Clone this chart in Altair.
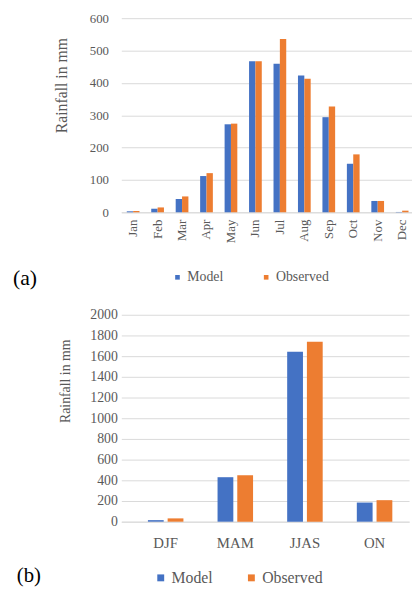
import altair as alt
import pandas as pd

months = ["Jan", "Feb", "Mar", "Apr", "May", "Jun", "Jul", "Aug", "Sep", "Oct", "Nov", "Dec"]
model_monthly = [3, 11, 41, 112, 272, 467, 459, 423, 294, 150, 35, 1]
obs_monthly = [4, 15, 49, 121, 274, 467, 536, 413, 327, 179, 35, 5]

seasons = ["DJF", "MAM", "JJAS", "ON"]
model_seasonal = [15, 430, 1643, 185]
obs_seasonal = [32, 450, 1740, 208]

series = ["Model", "Observed"]
colors = ["#4472C4", "#ED7D31"]

FONT = "Liberation Serif"
GRAY = "#595959"
GRID = "#d9d9d9"

df_m = pd.DataFrame(
    [{"cat": m, "series": "Model", "value": v} for m, v in zip(months, model_monthly)]
    + [{"cat": m, "series": "Observed", "value": v} for m, v in zip(months, obs_monthly)]
)
df_s = pd.DataFrame(
    [{"cat": s, "series": "Model", "value": v} for s, v in zip(seasons, model_seasonal)]
    + [{"cat": s, "series": "Observed", "value": v} for s, v in zip(seasons, obs_seasonal)]
)

# ---------- panel (a) ----------
bars_a = alt.Chart(df_m).mark_bar().encode(
    x=alt.X("cat:N", sort=months, title=None,
            scale=alt.Scale(paddingInner=0.48, paddingOuter=0.183, align=0.61),
            axis=alt.Axis(labelAngle=-90, labelFont=FONT, labelFontSize=13,
                          labelColor=GRAY, ticks=False, domainColor=GRID,
                          labelPadding=7, labelAlign="right", labelBaseline="middle")),
    xOffset=alt.XOffset("series:N", sort=series, scale=alt.Scale(paddingInner=0.0)),
    y=alt.Y("value:Q", scale=alt.Scale(domain=[0, 600], nice=False),
            axis=alt.Axis(values=[0, 100, 200, 300, 400, 500, 600], format="d",
                          title="Rainfall in mm",
                          titleFont=FONT, titleFontSize=16, titleFontWeight="normal",
                          titleColor=GRAY, titleX=-61, titleY=68, titleAngle=-90,
                          titleBaseline="middle", titleAlign="center",
                          labelFont=FONT, labelFontSize=13, labelColor=GRAY,
                          labelPadding=13, ticks=False, domain=False,
                          gridColor=GRID)),
    color=alt.Color("series:N", sort=series,
                    scale=alt.Scale(domain=series, range=colors),
                    legend=alt.Legend(title=None, orient="none", direction="horizontal",
                                      legendX=50, legendY=256, symbolType="square",
                                      symbolSize=22, symbolStrokeWidth=0,
                                      labelFont=FONT, labelFontSize=14,
                                      labelColor=GRAY, columnPadding=36,
                                      labelOffset=3)),
)

lab_a = alt.Chart(pd.DataFrame({"t": ["(a)"]})).mark_text(
    font=FONT, fontSize=22, color="black", align="left", baseline="middle"
).encode(x=alt.value(-110), y=alt.value(264), text="t:N")

top = alt.layer(bars_a, lab_a).properties(width=295, height=197)

# ---------- panel (b) ----------
bars_b = alt.Chart(df_s).mark_bar().encode(
    x=alt.X("cat:N", sort=seasons, title=None,
            scale=alt.Scale(paddingInner=0.49, paddingOuter=0.311, align=0.614),
            axis=alt.Axis(labelAngle=0, labelFont=FONT, labelFontSize=15,
                          labelColor=GRAY, ticks=False, domainColor=GRID,
                          labelPadding=14)),
    xOffset=alt.XOffset("series:N", sort=series, scale=alt.Scale(paddingInner=0.2)),
    y=alt.Y("value:Q", scale=alt.Scale(domain=[0, 2000], nice=False),
            axis=alt.Axis(values=list(range(0, 2001, 200)), format="d",
                          title="Rainfall in mm",
                          titleFont=FONT, titleFontSize=14, titleFontWeight="normal",
                          titleColor=GRAY, titleX=-57, titleY=67, titleAngle=-90,
                          titleBaseline="middle", titleAlign="center",
                          labelFont=FONT, labelFontSize=14, labelColor=GRAY,
                          labelPadding=4, ticks=False, domain=False,
                          gridColor=GRID)),
    color=alt.Color("series:N", sort=series,
                    scale=alt.Scale(domain=series, range=colors),
                    legend=alt.Legend(title=None, orient="none", direction="horizontal",
                                      legendX=32, legendY=259, symbolType="square",
                                      symbolSize=49, symbolStrokeWidth=0,
                                      labelFont=FONT, labelFontSize=16,
                                      labelColor=GRAY, columnPadding=31,
                                      labelOffset=3)),
)

lab_b = alt.Chart(pd.DataFrame({"t": ["(b)"]})).mark_text(
    font=FONT, fontSize=21, color="black", align="left", baseline="middle"
).encode(x=alt.value(-106), y=alt.value(265), text="t:N")

bottom = alt.layer(bars_b, lab_b).properties(width=292, height=210)

chart = alt.vconcat(top, bottom, spacing=19).resolve_scale(
    color="independent", xOffset="independent", x="independent", y="independent"
).resolve_legend(color="independent").configure_view(stroke=None).properties(
    background="white", padding={"left": 5, "top": 0, "right": 0, "bottom": 0}
)

chart.save("out.html", embed_options={"renderer": "svg", "actions": False})
